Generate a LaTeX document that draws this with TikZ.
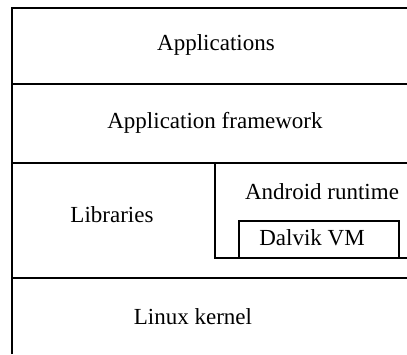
\documentclass[tikz,border=0pt]{standalone}
\usepackage{fontspec}
\setmainfont{Liberation Serif}
\begin{document}
\begin{tikzpicture}[x=1pt,y=-1pt,
  lbl/.style={font=\fontsize{23}{26}\selectfont, inner sep=0pt},
  rule/.style={line width=1.2pt},
  thickrule/.style={line width=2.2pt}]
\useasboundingbox (0,0) rectangle (407,354);
% frame
\draw[rule] (12,354) -- (12,8) -- (407,8);
\draw[rule] (12,84) -- (407,84);
\draw[thickrule] (12,163) -- (407,163);
\draw[rule] (12,278) -- (407,278);
% android runtime area
\draw[rule] (215,163) -- (215,258) -- (407,258);
\node[draw, line width=1.2pt, minimum width=160pt, minimum height=37pt, inner sep=0pt] (dalvik) at (319,239.5) {};
% labels
\node[lbl] (apps) at (216,45) {Applications};
\node[lbl] (fw) at (215,123) {Application framework};
\node[lbl] (libs) at (112,215) {Libraries};
\node[lbl] (rt) at (322,192) {Android runtime};
\node[lbl] (dvm) at (312,238) {Dalvik VM};
\node[lbl] (kernel) at (193,317) {Linux kernel};
\end{tikzpicture}
\end{document}
